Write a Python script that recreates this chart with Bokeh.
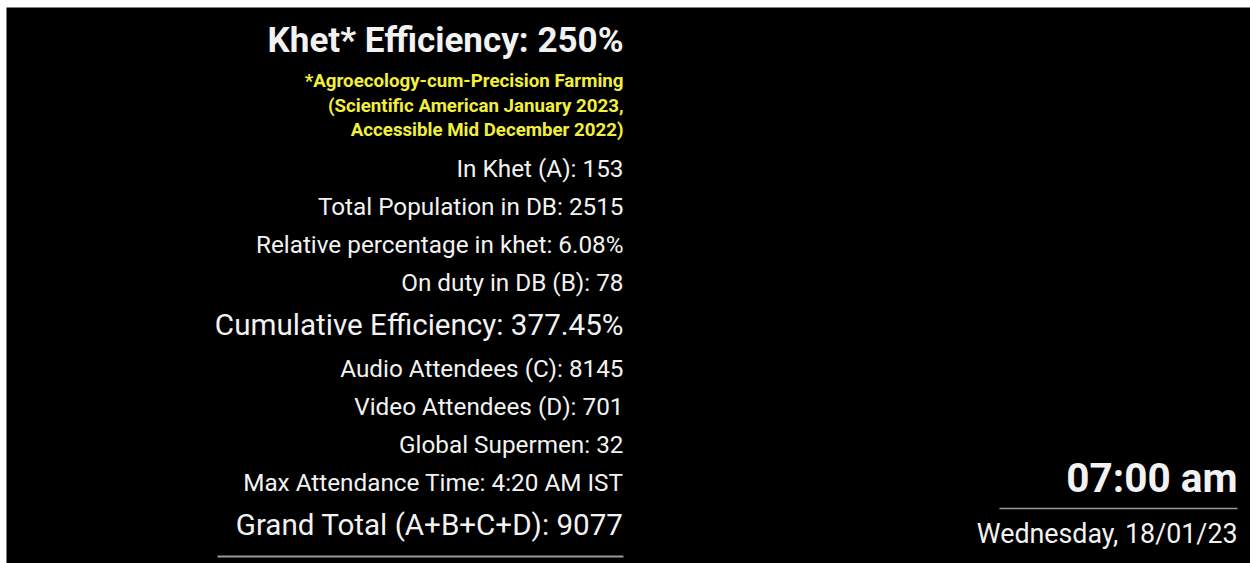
from bokeh.plotting import figure
from bokeh.models import ColumnDataSource, Range1d
from bokeh.core.properties import value
from bokeh.embed import file_html
from bokeh.resources import INLINE

# ---- data ----
title_label = "Khet* Efficiency"
title_value = "250%"
note_lines = [
    "*Agroecology-cum-Precision Farming",
    "(Scientific American January 2023,",
    "Accessible Mid December 2022)",
]
stat_labels = [
    "In Khet (A)",
    "Total Population in DB",
    "Relative percentage in khet",
    "On duty in DB (B)",
    "Cumulative Efficiency",
    "Audio Attendees (C)",
    "Video Attendees (D)",
    "Global Supermen",
    "Max Attendance Time",
    "Grand Total (A+B+C+D)",
]
stat_values = ["153", "2515", "6.08%", "78", "377.45%", "8145", "701", "32", "4:20 AM IST", "9077"]
stat_emphasis = [False, False, False, False, True, False, False, False, False, True]
clock_time = "07:00 am"
clock_date = "Wednesday, 18/01/23"

# ---- layout / style (data coordinates == screen pixels) ----
W, H = 1250, 563
LEFT_GAP, TOP_GAP = 6, 7
FONT = value("Roboto")
WHITE = "#f2f2f2"
YELLOW = "#f2f03c"
RULE = "#9a9a9a"
RIGHT = 623

p = figure(width=W, height=H, output_backend="svg", toolbar_location=None,
           x_range=Range1d(LEFT_GAP, W), y_range=Range1d(H, TOP_GAP),
           min_border=0, min_border_left=LEFT_GAP, min_border_top=TOP_GAP,
           background_fill_color="black", border_fill_color="white")
p.axis.visible = False
p.grid.visible = False
p.outline_line_color = None

# title
p.text(x=[RIGHT], y=[39.5], text=[f"{title_label}: {title_value}"],
       text_align="right", text_baseline="middle", text_font=FONT,
       text_font_size="35px", text_font_style="bold", text_color=WHITE)

# yellow note
note_y = [80.5 + 24.5 * i for i in range(len(note_lines))]
p.text(x=[RIGHT] * len(note_lines), y=note_y, text=note_lines,
       text_align="right", text_baseline="middle", text_font=FONT,
       text_font_size="18.7px", text_font_style="bold", text_color=YELLOW)

# stats
ys, texts, sizes = [], [], []
y = 167.5
for i, (lab, val, emph) in enumerate(zip(stat_labels, stat_values, stat_emphasis)):
    if i > 0:
        y += 43 if (emph or stat_emphasis[i - 1]) else 38
    ys.append(y)
    texts.append(f"{lab}: {val}")
    sizes.append("29.6px" if emph else "24.3px")
src = ColumnDataSource(dict(x=[RIGHT] * len(ys), y=ys, text=texts, size=sizes))
p.text(x="x", y="y", text="text", source=src, text_align="right",
       text_baseline="middle", text_font=FONT, text_font_size="size",
       text_color=WHITE)

# rule under grand total
p.segment(x0=[217], y0=[556], x1=[RIGHT], y1=[556], line_color=RULE, line_width=2)

# clock
CR = 1237
p.text(x=[CR], y=[477.5], text=[clock_time], text_align="right",
       text_baseline="middle", text_font=FONT, text_font_size="40.5px",
       text_font_style="bold", text_color=WHITE)
p.segment(x0=[999], y0=[508], x1=[CR], y1=[508], line_color=RULE, line_width=1.5)
p.text(x=[CR], y=[533.5], text=[clock_date], text_align="right",
       text_baseline="middle", text_font=FONT, text_font_size="26.8px",
       text_color=WHITE)

open("out.html", "w").write(file_html(p, INLINE))
